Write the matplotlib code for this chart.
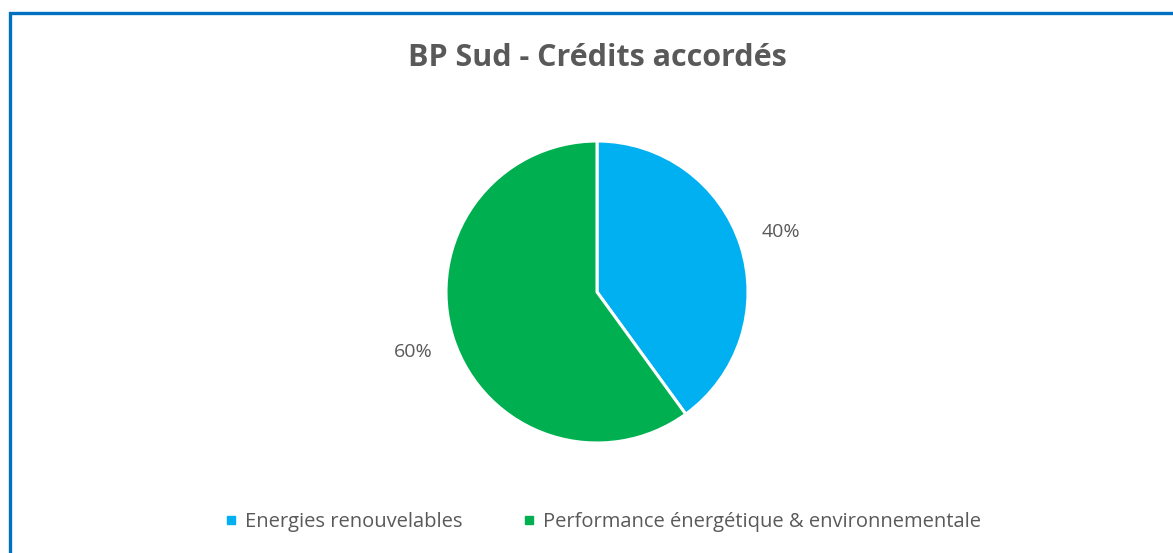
import matplotlib
matplotlib.use("Agg")
import matplotlib.pyplot as plt
from matplotlib.patches import Rectangle
from matplotlib.lines import Line2D

categories = ["Energies renouvelables", "Performance énergétique & environnementale"]
values = [40, 60]
colors = ["#00B0F0", "#00B050"]
title = "BP Sud - Crédits accordés"

W, H = 1173, 553
fig = plt.figure(figsize=(W / 100, H / 100), dpi=100)
fig.patch.set_facecolor("white")

# frame border
fig.patches.append(Rectangle((9.5 / W, -0.1), 1.2, 1 - 13.5 / H + 0.1,
                             transform=fig.transFigure, fill=False,
                             edgecolor="#0070C0", linewidth=2.4, zorder=10))

cx, cy, r = 597, 292, 151
ax = fig.add_axes([(cx - r) / W, 1 - (cy + r) / H, 2 * r / W, 2 * r / H])
wedges, texts, autotexts = ax.pie(values, colors=colors, startangle=90, counterclock=False,
                                  radius=1, autopct="%1.0f%%", pctdistance=1.28,
                                  wedgeprops=dict(edgecolor="white", linewidth=2.2))
for t in autotexts:
    t.set_fontsize(14)
    t.set_color("#595959")
    t.set_fontfamily("Open Sans")
ax.set_xlim(-1, 1)
ax.set_ylim(-1, 1)
ax.set_aspect("equal")
ax.axis("off")

fig.text(597 / W, 1 - 58 / H, title, ha="center", va="center", fontsize=22,
         fontweight="bold", color="#595959", family="Open Sans")

handles = [Line2D([], [], marker="s", linestyle="none", markersize=6,
                  markerfacecolor=c, markeredgecolor=c) for c in colors]
fig.legend(handles, categories, loc="center", bbox_to_anchor=(603 / W, 1 - 522 / H),
           ncol=2, frameon=False, handlelength=0.6, handletextpad=0.4, columnspacing=3.0,
           prop=dict(family="Open Sans", size=14.5), labelcolor="#595959")

fig.savefig("out.png", dpi=100, facecolor="white")
